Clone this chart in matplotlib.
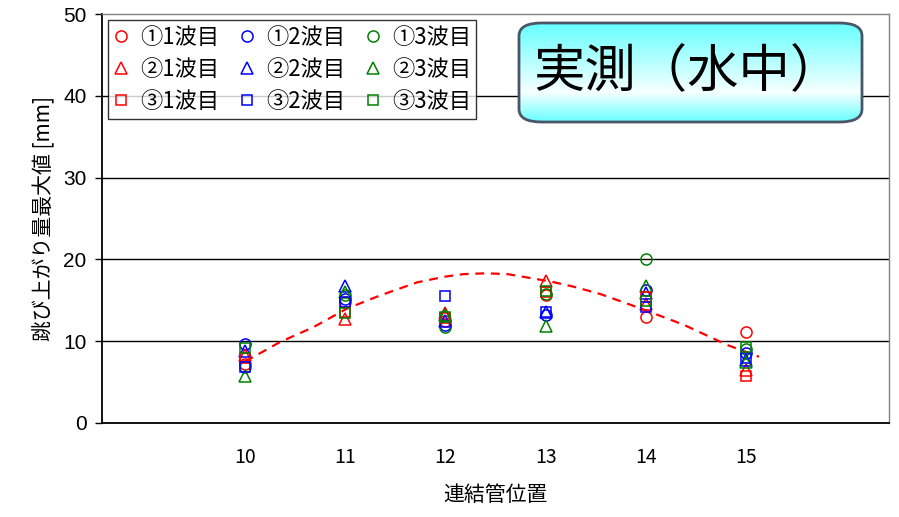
import matplotlib
matplotlib.use("Agg")
import matplotlib.pyplot as plt
import numpy as np
from matplotlib.patches import FancyBboxPatch
from matplotlib.lines import Line2D

plt.rcParams['font.family'] = ['Noto Sans CJK JP', 'DejaVu Sans']

positions = [10, 11, 12, 13, 14, 15]
labels = ["①1波目", "①2波目", "①3波目",
          "②1波目", "②2波目", "②3波目",
          "③1波目", "③2波目", "③3波目"]
s11 = [7.2, 14.8, 12.5, 15.7, 13.0, 11.1]
s12 = [9.6, 15.2, 12.0, 13.2, 16.2, 8.5]
s13 = [6.8, 15.6, 11.7, 15.8, 20.0, 9.0]
s21 = [8.3, 12.7, 13.5, 17.4, 14.6, 6.5]
s22 = [8.8, 16.8, 12.5, 13.6, 15.9, 7.7]
s23 = [5.7, 16.0, 13.2, 11.9, 16.8, 7.5]
s31 = [8.0, 13.6, 12.8, 16.0, 15.4, 5.7]
s32 = [6.8, 14.8, 15.5, 13.6, 14.2, 7.9]
s33 = [9.2, 13.4, 13.0, 16.1, 14.9, 9.3]
series = [s11, s12, s13, s21, s22, s23, s31, s32, s33]
colors = ['#FF0000', '#0000FF', '#008000'] * 3
markers = ['o'] * 3 + ['^'] * 3 + ['s'] * 3

trend_x = [10.0, 10.35, 10.68, 11.02, 11.35, 11.72, 12.0, 12.18, 12.4, 12.62, 13.05, 13.3, 13.55, 13.95, 14.38, 14.82, 15.13]
trend_y = [7.5, 9.9, 11.7, 14.0, 15.6, 17.2, 17.9, 18.2, 18.3, 18.2, 17.3, 16.6, 15.75, 14.0, 12.0, 9.5, 8.1]

fig = plt.figure(figsize=(8.99, 5.17), dpi=100)
ax = fig.add_axes([102/899, 1-423/517, (889-102)/899, (423-14)/517])

ax.set_xlim(8.573, 16.427)
ax.set_ylim(0, 50)
ax.set_yticks([0, 10, 20, 30, 40, 50])
ax.set_xticks(positions)
ax.set_xticklabels([str(p) for p in positions])
for y in [10, 20, 30, 40]:
    ax.axhline(y, color='black', lw=1.0, zorder=1)

ax.plot(trend_x, trend_y, color='#FF0000', ls=(0, (4, 3)), lw=1.6, zorder=2)

handles = []
for vals, c, m, lab in zip(series, colors, markers, labels):
    ax.plot(positions, vals, ls='none', marker=m, mfc='none', mec=c, mew=1.1,
            ms=8 if m != 's' else 7.5, zorder=3)
    handles.append(Line2D([], [], ls='none', marker=m, mfc='none', mec=c, mew=1.1,
                          ms=8 if m != 's' else 7.5, label=lab))

for side in ['left', 'bottom']:
    ax.spines[side].set_color('black')
    ax.spines[side].set_linewidth(1.3)
for side in ['top', 'right']:
    ax.spines[side].set_color('#808080')
    ax.spines[side].set_linewidth(1.0)

ax.tick_params(axis='x', length=0, pad=17, labelsize=14)
ax.tick_params(axis='y', length=5, width=1, direction='out', pad=6, labelsize=15)
for lab in ax.get_yticklabels():
    lab.set_family(['Liberation Sans', 'DejaVu Sans'])

ax.set_xlabel('連結管位置', fontsize=15, labelpad=12)
ax.set_ylabel('跳び上がり量最大値 [mm]', fontsize=15, labelpad=6)

order = [0, 3, 6, 1, 4, 7, 2, 5, 8]
leg = ax.legend([handles[i] for i in order], [labels[i] for i in order],
                ncol=3, loc='upper left', bbox_to_anchor=(6/787, 1-6/409),
                fontsize=16, frameon=True, fancybox=False, edgecolor='black',
                handlelength=0.7, handletextpad=0.5, columnspacing=0.9,
                borderpad=0.25, labelspacing=0.42, borderaxespad=0)
leg.get_frame().set_linewidth(1.0)
leg.set_zorder(5)

x0, y0, x1, y1 = 519/899, 1-122/517, 862/899, 1-23/517
box = FancyBboxPatch((x0, y0), x1-x0, y1-y0, boxstyle='round,pad=0,rounding_size=0.025',
                     transform=fig.transFigure, facecolor='none', edgecolor='#4a5568',
                     lw=2, zorder=11)
fig.add_artist(box)
t = np.linspace(0, 1, 256)
c_top = np.array([0.40, 1.0, 1.0])
c_mid = np.array([0.97, 1.0, 1.0])
grad = np.empty((256, 1, 3))
for i, v in enumerate(t):
    if v < 0.7:
        w = v / 0.7
        grad[i, 0] = c_top * (1 - w) + c_mid * w
    else:
        w = (v - 0.7) / 0.3
        grad[i, 0] = c_mid * (1 - w) + c_top * w
gax = fig.add_axes([x0, y0, x1-x0, y1-y0], zorder=10)
gax.axis('off')
im = gax.imshow(grad, aspect='auto', extent=[x0, x1, y0, y1], transform=fig.transFigure)
clip = FancyBboxPatch((x0, y0), x1-x0, y1-y0, boxstyle='round,pad=0,rounding_size=0.025',
                      transform=fig.transFigure, facecolor='none', edgecolor='none')
im.set_clip_path(clip)
fig.text(533/899, 1-72/517, '実測（水中）', fontsize=37, va='center', ha='left',
         color='black', zorder=12)

fig.savefig('out.png', dpi=100)
